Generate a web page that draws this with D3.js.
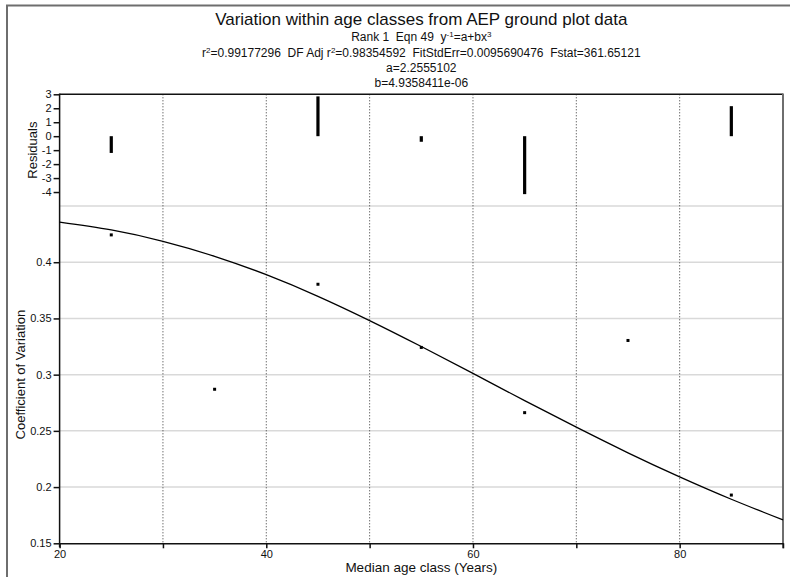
<!DOCTYPE html>
<html>
<head>
<meta charset="utf-8">
<script src="https://cdn.jsdelivr.net/npm/d3@7"></script>
<style>
  html, body { margin: 0; padding: 0; background: #fff; }
  svg { display: block; }
  text { font-family: "Liberation Sans", Arial, sans-serif; fill: #111; white-space: pre; }
</style>
</head>
<body>
<svg id="chart" width="790" height="577"></svg>
<script>
// ---- data ----
const ageClasses = [25, 35, 45, 55, 65, 75, 85];
const cvValues   = [0.4243, 0.2870, 0.3804, 0.3242, 0.2662, 0.3304, 0.1929];

const residAges   = [25, 45, 55, 65, 85];
const residValues = [-1.2, 2.85, -0.4, -4.15, 2.15];

const fitAges   = [20, 25, 30, 35, 40, 45, 50, 55, 60, 65, 70, 75, 80, 85, 90];
const fitValues = [0.4357, 0.4287, 0.4186, 0.4053, 0.3889, 0.3697, 0.3481, 0.3250,
                   0.3011, 0.2769, 0.2533, 0.2305, 0.2091, 0.1892, 0.1708];

const xTicks      = [20, 30, 40, 50, 60, 70, 80, 90];
const xTickLabels = ["20", "", "40", "", "60", "", "80", ""];
const yTicks      = [0.15, 0.2, 0.25, 0.3, 0.35, 0.4];
const yTickLabels = ["0.15", "0.2", "0.25", "0.3", "0.35", "0.4"];
const yGrid       = [0.2, 0.25, 0.3, 0.35, 0.4, 0.45];
const rTicks      = [-4, -3, -2, -1, 0, 1, 2, 3];
const rTickLabels = ["-4", "-3", "-2", "-1", "0", "1", "2", "3"];

const titleText = "Variation within age classes from AEP ground plot data";

(function () {
// ---- layout ----
const pLeft = 59.6, pRight = 783, pTop = 94.3, mainTop = 206, pBottom = 543.3;

const svg = d3.select("#chart");

const x = d3.scaleLinear().domain([20, 90]).range([pLeft, pRight]);
const y = d3.scaleLinear().domain([0.15, 0.45]).range([pBottom, mainTop]);
const r = d3.scaleLinear().domain([-5, 3]).range([mainTop, pTop]);

// outer frame
svg.append("path")
  .attr("d", `M7,577 V5.5 H790`)
  .attr("fill", "none").attr("stroke", "#6e6e6e").attr("stroke-width", 2);

// horizontal grid (main panel)
svg.append("g").selectAll("line").data(yGrid).join("line")
  .attr("x1", pLeft).attr("x2", pRight)
  .attr("y1", d => y(d)).attr("y2", d => y(d))
  .attr("stroke", "#d9d9d9").attr("stroke-width", 1.5);

// vertical dotted grid (both panels)
svg.append("g").selectAll("line").data(xTicks.filter(d => d > 20 && d < 90)).join("line")
  .attr("x1", d => x(d)).attr("x2", d => x(d))
  .attr("y1", pTop).attr("y2", pBottom)
  .attr("stroke", "#333").attr("stroke-width", 1)
  .attr("stroke-dasharray", "1,2");

// top border & right border
svg.append("line").attr("x1", pLeft).attr("x2", pRight).attr("y1", pTop).attr("y2", pTop)
  .attr("stroke", "#111").attr("stroke-width", 1.5);
svg.append("line").attr("x1", pRight).attr("x2", pRight).attr("y1", pTop - 0.7).attr("y2", pBottom + 5)
  .attr("stroke", "#6e6e6e").attr("stroke-width", 2);

// x axis
const xAxis = svg.append("g").attr("transform", `translate(0,${pBottom})`)
  .call(d3.axisBottom(x).tickValues(xTicks).tickSize(5).tickPadding(2).tickSizeOuter(0)
    .tickFormat((d, i) => xTickLabels[i]));
xAxis.selectAll("text").attr("font-size", 11).attr("fill", "#111");
xAxis.selectAll("line,path").attr("stroke", "#111").attr("stroke-width", 1.5);

// y axis (main)
const yAxis = svg.append("g").attr("transform", `translate(${pLeft},0)`)
  .call(d3.axisLeft(y).tickValues(yTicks).tickSize(6).tickPadding(2).tickSizeOuter(0)
    .tickFormat((d, i) => yTickLabels[i]));
yAxis.select("path").remove();
yAxis.selectAll("text").attr("font-size", 11).attr("fill", "#111");
yAxis.selectAll("line").attr("stroke", "#111").attr("stroke-width", 1.5);

// y axis (residuals)
const rAxis = svg.append("g").attr("transform", `translate(${pLeft},0)`)
  .call(d3.axisLeft(r).tickValues(rTicks).tickSize(6).tickPadding(2).tickSizeOuter(0)
    .tickFormat((d, i) => rTickLabels[i]));
rAxis.select("path").remove();
rAxis.selectAll("text").attr("font-size", 11).attr("fill", "#111");
rAxis.selectAll("line").attr("stroke", "#111").attr("stroke-width", 1.5);

// left spine across both panels
svg.append("line").attr("x1", pLeft).attr("x2", pLeft).attr("y1", pTop - 0.7).attr("y2", pBottom + 4)
  .attr("stroke", "#111").attr("stroke-width", 1.5);

// residual bars
svg.append("g").selectAll("rect").data(residAges.map((a, i) => [a, residValues[i]])).join("rect")
  .attr("x", d => x(d[0]) - 1.6)
  .attr("width", 3.2)
  .attr("y", d => Math.min(r(0), r(d[1])))
  .attr("height", d => Math.abs(r(d[1]) - r(0)))
  .attr("fill", "#000");

// fitted curve
const line = d3.line().x(d => x(d[0])).y(d => y(d[1])).curve(d3.curveNatural);
svg.append("path")
  .datum(fitAges.map((a, i) => [a, fitValues[i]]))
  .attr("d", line)
  .attr("fill", "none").attr("stroke", "#000").attr("stroke-width", 1.3);

// data points
svg.append("g").selectAll("rect").data(ageClasses.map((a, i) => [a, cvValues[i]])).join("rect")
  .attr("x", d => x(d[0]) - 1.5).attr("y", d => y(d[1]) - 1.5)
  .attr("width", 3).attr("height", 3).attr("fill", "#000");

// titles
const cx = (pLeft + pRight) / 2;
svg.append("text").attr("x", cx).attr("y", 24.5).attr("text-anchor", "middle")
  .attr("font-size", 17).text(titleText);

function supLine(yPos, parts) {
  const t = svg.append("text").attr("x", cx).attr("y", yPos).attr("text-anchor", "middle")
    .attr("font-size", 12);
  let raised = false;
  parts.forEach(p => {
    const s = t.append("tspan").text(p.t);
    if (p.sup) { s.attr("font-size", 8).attr("dy", raised ? 0 : -4); raised = true; }
    else if (raised) { s.attr("dy", 4); raised = false; }
  });
}
supLine(40.5, [{t: "Rank 1  Eqn 49  y"}, {t: "-1", sup: true}, {t: "=a+bx"}, {t: "3", sup: true}]);
supLine(56.5, [{t: "r"}, {t: "2", sup: true}, {t: "=0.99177296  DF Adj r"}, {t: "2", sup: true},
             {t: "=0.98354592  FitStdErr=0.0095690476  Fstat=361.65121"}]);
supLine(71.5, [{t: "a=2.2555102"}]);
supLine(87, [{t: "b=4.9358411e-06"}]);

// axis titles
svg.append("text").attr("x", cx).attr("y", 572).attr("text-anchor", "middle")
  .attr("font-size", 13.5).text("Median age class (Years)");
svg.append("text").attr("transform", `translate(36.5,${(pTop + mainTop) / 2}) rotate(-90)`)
  .attr("text-anchor", "middle").attr("font-size", 13).text("Residuals");
svg.append("text").attr("transform", `translate(24.8,${(mainTop + pBottom) / 2}) rotate(-90)`)
  .attr("text-anchor", "middle").attr("font-size", 13).text("Coefficient of Variation");
})();
</script>
</body>
</html>
